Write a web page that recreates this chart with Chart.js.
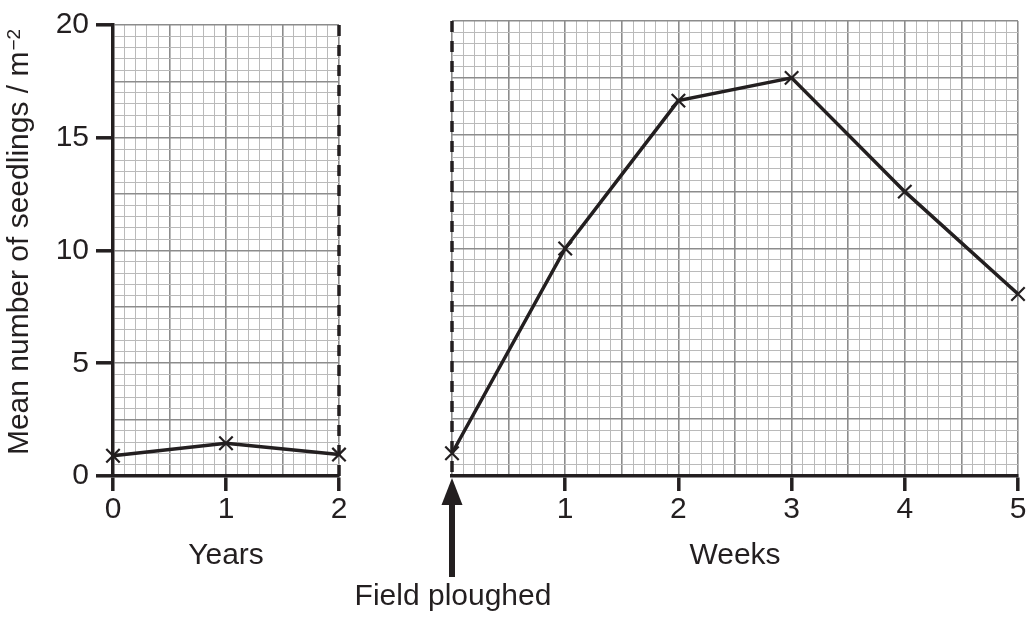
<!DOCTYPE html>
<html>
<head>
<meta charset="utf-8">
<script src="https://cdn.jsdelivr.net/npm/chart.js@4/dist/chart.umd.min.js"></script>
<style>
  html, body { margin: 0; padding: 0; background: #fff; }
  #wrap { position: relative; width: 1030px; height: 617px; }
  #wrap canvas { position: absolute; left: 0; top: 0; }
</style>
</head>
<body>
<div id="wrap">
  <canvas id="years" width="1030" height="617"></canvas>
  <canvas id="weeks" width="1030" height="617"></canvas>
</div>
<script>
// values
const years = [0, 1, 2];
const yearSeedlings = [0.9, 1.45, 0.95];
const weeks = [0, 1, 2, 3, 4, 5];
const weekSeedlings = [1, 10, 16.5, 17.5, 12.5, 8];

const yTickLabels = [0, 5, 10, 15, 20];
const yearTickLabels = [0, 1, 2];
const weekTickLabels = [1, 2, 3, 4, 5];

const INK = '#231f20';
const MAJOR = '#8c8c8c';
const MINOR = '#bababa';
const FAMILY = '"Liberation Sans", Arial, sans-serif';
const FONT = { family: FAMILY, size: 30 };

function onStep(v, step) {
  return Math.abs(v / step - Math.round(v / step)) < 1e-6;
}
function inList(list, v) {
  return list.some(l => Math.abs(l - v) < 1e-6);
}

function gridFor(majorStep, labelled) {
  return {
    color: c => (c.tick && onStep(c.tick.value, majorStep)) ? MAJOR : MINOR,
    lineWidth: c => (c.tick && onStep(c.tick.value, majorStep)) ? 1.6 : 1,
    tickColor: c => (labelled && c.tick && inList(labelled, c.tick.value)) ? INK : 'rgba(0,0,0,0)',
    tickWidth: 3.5
  };
}

function yAxis(withLabels) {
  const grid = gridFor(2.5, withLabels ? yTickLabels : null);
  grid.drawTicks = withLabels;
  grid.tickLength = 17;
  return {
    type: 'linear',
    min: 0,
    max: 20,
    ticks: {
      display: withLabels,
      stepSize: 0.5,
      autoSkip: false,
      maxTicksLimit: 1000,
      padding: 7,
      color: INK,
      font: FONT,
      callback: v => inList(yTickLabels, v) ? String(v) : ''
    },
    grid: grid,
    border: { display: withLabels, color: INK, width: 3.5 },
    title: { display: false },
    afterFit: s => { s.width = withLabels ? 113 : 0; }
  };
}

function xAxis(max, labels, title) {
  const grid = gridFor(0.5, labels);
  grid.tickLength = 15;
  return {
    type: 'linear',
    min: 0,
    max: max,
    ticks: {
      stepSize: 0.1,
      autoSkip: false,
      maxTicksLimit: 1000,
      maxRotation: 0,
      padding: 1,
      color: INK,
      font: FONT,
      callback: v => inList(labels, v) ? String(Math.round(v)) : ''
    },
    grid: grid,
    border: { color: INK, width: 3.5 },
    title: {
      display: true,
      text: title,
      color: INK,
      font: FONT,
      padding: { top: 0, bottom: 43 }
    },
    afterFit: s => { s.height = 141; s.paddingLeft = 0; s.paddingRight = 0; }
  };
}

function series(xs, ys) {
  return {
    data: xs.map((x, i) => ({ x: x, y: ys[i] })),
    borderColor: INK,
    borderWidth: 3.5,
    pointStyle: 'crossRot',
    pointRadius: 9.5,
    pointBorderWidth: 2.2,
    pointBorderColor: INK,
    pointBackgroundColor: INK,
    tension: 0,
    clip: false
  };
}

function dashedEdge(value) {
  return {
    id: 'dashedEdge',
    beforeDatasetsDraw(chart) {
      const { ctx, chartArea } = chart;
      const px = chart.scales.x.getPixelForValue(value);
      ctx.save();
      ctx.strokeStyle = INK;
      ctx.lineWidth = 3.5;
      ctx.setLineDash([11, 9]);
      ctx.beginPath();
      ctx.moveTo(px, chartArea.top);
      ctx.lineTo(px, chartArea.bottom);
      ctx.stroke();
      ctx.restore();
    }
  };
}

// y title with a real superscript on the unit
const yTitle = {
  id: 'yTitle',
  afterDraw(chart) {
    const { ctx, chartArea } = chart;
    const main = 'Mean number of seedlings / m';
    const sup = '\u22122';
    ctx.save();
    ctx.fillStyle = INK;
    ctx.font = '30px ' + FAMILY;
    const w1 = ctx.measureText(main).width;
    ctx.font = '19px ' + FAMILY;
    const w2 = ctx.measureText(sup).width;
    const start = -(w1 + w2) / 2;
    ctx.translate(28, (chartArea.top + chartArea.bottom) / 2 - 8);
    ctx.rotate(-Math.PI / 2);
    ctx.textAlign = 'left';
    ctx.textBaseline = 'alphabetic';
    ctx.font = '30px ' + FAMILY;
    ctx.fillText(main, start, 0);
    ctx.font = '19px ' + FAMILY;
    ctx.fillText(sup, start + w1 + 1, -8);
    ctx.restore();
  }
};

const ploughArrow = {
  id: 'ploughArrow',
  afterDraw(chart) {
    const { ctx } = chart;
    const px = chart.scales.x.getPixelForValue(weeks[0]);
    const base = chart.scales.y.getPixelForValue(0);
    ctx.save();
    ctx.fillStyle = INK;
    ctx.beginPath();
    ctx.moveTo(px, base + 2);
    ctx.lineTo(px - 10.5, base + 29);
    ctx.lineTo(px + 10.5, base + 29);
    ctx.closePath();
    ctx.fill();
    ctx.fillRect(px - 3, base + 27, 6, 74);
    ctx.font = '30px ' + FAMILY;
    ctx.textAlign = 'center';
    ctx.textBaseline = 'middle';
    ctx.fillText('Field ploughed', px + 1, base + 121);
    ctx.restore();
  }
};

function baseOptions(padding) {
  return {
    responsive: false,
    animation: false,
    events: [],
    layout: { padding: padding },
    plugins: { legend: { display: false }, tooltip: { enabled: false } }
  };
}

const yearOpts = baseOptions({ left: 0, top: 21, right: 691, bottom: 0 });
yearOpts.scales = { x: xAxis(2, yearTickLabels, 'Years'), y: yAxis(true) };
new Chart(document.getElementById('years'), {
  type: 'line',
  data: { datasets: [series(years, yearSeedlings)] },
  options: yearOpts,
  plugins: [dashedEdge(years[years.length - 1]), yTitle]
});

const weekOpts = baseOptions({ left: 452, top: 21, right: 12, bottom: 0 });
weekOpts.scales = { x: xAxis(5, weekTickLabels, 'Weeks'), y: yAxis(false) };
new Chart(document.getElementById('weeks'), {
  type: 'line',
  data: { datasets: [series(weeks, weekSeedlings)] },
  options: weekOpts,
  plugins: [dashedEdge(weeks[0]), ploughArrow]
});
</script>
</body>
</html>
